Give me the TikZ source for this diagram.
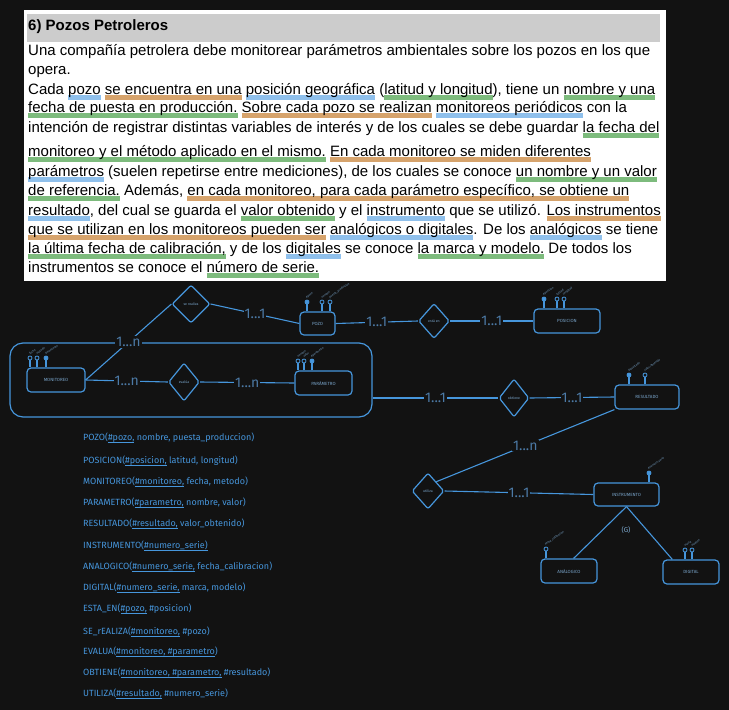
\documentclass[tikz,border=0pt]{standalone}
\usepackage{fontspec}
\setmainfont{Liberation Sans}
\newfontfamily\esbozo{Fira Sans}
\usetikzlibrary{arrows.meta,positioning,shapes.geometric}
\definecolor{fondo}{HTML}{121212}
\definecolor{azul}{HTML}{4696DC}
\definecolor{rotulo}{HTML}{7AA6CC}
\definecolor{card}{HTML}{4C7AA6}
\definecolor{barra}{HTML}{CCCCCC}
\definecolor{hlverde}{HTML}{7DBB7D}
\definecolor{hlazul}{HTML}{8FC0EC}
\definecolor{hlnaranja}{HTML}{D6A36C}
\newsavebox\marcabox
\newcommand{\marca}[2]{\sbox\marcabox{#2}\rlap{\color{#1}\rule[-5.5pt]{\wd\marcabox}{5pt}}\usebox\marcabox}
\newcommand{\clave}[1]{\sbox\marcabox{#1}\rlap{\color{azul}\rule[-2.8pt]{\wd\marcabox}{0.9pt}}\usebox\marcabox}
\newcommand{\atr}[4]{%
  \draw[con] ([xshift=#2pt]#1.north) -- ++(0,-7) coordinate (a);
  \node[punto,fill=#3] (p) at (a) {};
  \node[atrib] at (p.north) {#4};}

\begin{document}
\begin{tikzpicture}[x=1pt, y=-1pt, >=Stealth,
    linea/.style={anchor=base west, inner sep=0pt, font=\fontsize{15}{18}\selectfont},
    con/.style={draw=azul, line width=1.1pt},
    ent/.style={draw=azul, line width=1.2pt, rounded corners=4pt, inner sep=0pt, font=\esbozo\fontsize{4.5}{5}\selectfont, text=rotulo},
    rel/.style={diamond, draw=azul, line width=1.2pt, rounded corners=2pt, inner sep=0pt, font=\esbozo\fontsize{3.5}{4}\selectfont, text=rotulo},
    card/.style={fill=fondo, inner sep=1pt, font=\esbozo\fontsize{14}{14}\selectfont, text=card},
    punto/.style={circle, draw=azul, line width=0.8pt, inner sep=0pt, minimum size=4pt, anchor=south},
    atrib/.style={anchor=south west, rotate=35, inner sep=0.5pt, font=\esbozo\fontsize{2.8}{3}\selectfont, text=rotulo},
    esq/.style={anchor=base west, inner sep=0pt, font=\esbozo\fontsize{9}{10}\selectfont, text=azul}]
  \useasboundingbox (0,0) rectangle (729,710);
  \fill[fondo] (0,0) rectangle (729,710);
  \fill[white] (24,10) rectangle (666,281);
  \fill[barra] (26.5,14) rectangle (660,41.5);
  \node[linea, font=\bfseries\fontsize{15}{18}\selectfont] (titulo) at (28,30.5) {6) Pozos Petroleros};
  \node[linea] (l1) at (28,55.5) {Una compañía petrolera debe monitorear parámetros ambientales sobre los pozos en los que};
  \node[linea] (l2) at (28,74.5) {opera.};
  \node[linea] (l3) at (28,94.5) {Cada \marca{hlazul}{pozo} \marca{hlnaranja}{se encuentra en una} \marca{hlazul}{posición geográfica} (\marca{hlverde}{latitud y longitud}), tiene un \marca{hlverde}{nombre y una}};
  \node[linea] (l4) at (28,112.5) {\marca{hlverde}{fecha de puesta en producción.} \marca{hlnaranja}{Sobre cada pozo se realizan} \marca{hlazul}{monitoreos periódicos} con la};
  \node[linea] (l5) at (28,132.5) {intención de registrar distintas variables de interés y de los cuales se debe guardar \marca{hlverde}{la fecha del}};
  \node[linea] (l6) at (28,156.5) {\marca{hlverde}{monitoreo y el método aplicado en el mismo.} \marca{hlnaranja}{En cada monitoreo se miden diferentes}};
  \node[linea] (l7) at (28,176.5) {\marca{hlazul}{parámetros} (suelen repetirse entre mediciones), de los cuales se conoce \marca{hlverde}{un nombre y un valor}};
  \node[linea] (l8) at (28,195.5) {\marca{hlverde}{de referencia.} Además, \marca{hlnaranja}{en cada monitoreo, para cada parámetro específico, se obtiene un}};
  \node[linea] (l9) at (28,215.5) {\marca{hlazul}{resultado}, del cual se guarda el \marca{hlverde}{valor obtenido} y el \marca{hlazul}{instrumento} que se utilizó. \marca{hlnaranja}{Los instrumentos}};
  \node[linea] (l10) at (28,234.5) {\marca{hlnaranja}{que se utilizan en los monitoreos pueden ser} \marca{hlazul}{analógicos o digitales}. De los \marca{hlazul}{analógicos} se tiene};
  \node[linea] (l11) at (28,253.5) {\marca{hlverde}{la última fecha de calibración,} y de los \marca{hlazul}{digitales} se conoce \marca{hlverde}{la marca y modelo.} De todos los};
  \node[linea] (l12) at (28,272.5) {instrumentos se conoce el \marca{hlverde}{número de serie.}};

  \node[draw=azul, line width=1.2pt, rounded corners=13pt, minimum width=362pt, minimum height=74pt] (agreg) at (191,380) {};
  \node[ent, minimum width=35pt, minimum height=23pt] (pozo) at (317.5,323.5) {POZO};
  \node[ent, minimum width=66pt, minimum height=24pt] (posicion) at (567,321) {POSICION};
  \node[ent, minimum width=58pt, minimum height=24pt] (monitoreo) at (56,380) {MONITOREO};
  \node[ent, minimum width=57pt, minimum height=24pt] (parametro) at (323.5,383) {PARÁMETRO};
  \node[ent, minimum width=64pt, minimum height=24pt] (resultado) at (647,397) {RESULTADO};
  \node[ent, minimum width=65pt, minimum height=23pt] (instrumento) at (626.5,494.5) {INSTRUMENTO};
  \node[ent, minimum width=56pt, minimum height=24pt] (analogico) at (569,571) {ANÁLOGICO};
  \node[ent, minimum width=56pt, minimum height=24pt] (digital) at (691,572) {DIGITAL};
  \node[rel, minimum width=38pt, minimum height=38pt] (serealiza) at (191,304) {se realiza};
  \node[rel, minimum width=31pt, minimum height=35pt] (estaen) at (434,321) {está en};
  \node[rel, minimum width=31pt, minimum height=38pt] (evalua) at (184,382) {evalúa};
  \node[rel, minimum width=30pt, minimum height=38pt] (obtiene) at (514,398) {obtiene};
  \node[rel, minimum width=32pt, minimum height=36pt] (utiliza) at (428,491) {utiliza};

  \draw[con] (monitoreo.east) -- node[card] {1...n} (serealiza.west);
  \draw[con] (serealiza.east) -- node[card] {1...1} (pozo.west);
  \draw[con] (pozo.east) -- node[card] {1...1} (estaen.west);
  \draw[con] (estaen.east) -- node[card] {1...1} (posicion.west);
  \draw[con] (monitoreo.east) -- node[card] {1...n} (evalua.west);
  \draw[con] (evalua.east) -- node[card] {1...n} (parametro.west);
  \draw[con] (agreg.east |- obtiene.west) -- node[card] {1...1} (obtiene.west);
  \draw[con] (obtiene.east) -- node[card] {1...1} (resultado.west);
  \draw[con] (resultado.south west) -- node[card] {1...n} (utiliza.north east);
  \draw[con] (utiliza.east) -- node[card] {1...1} (instrumento.west);
  \draw[con] (instrumento.south) -- (analogico.70);
  \draw[con] (instrumento.south) -- (digital.146);
  \node[font=\esbozo\fontsize{7}{8}\selectfont, text=rotulo] (g) at (626,530) {(G)};

  \atr{pozo}{-10.5}{azul}{\#pozo}
  \atr{pozo}{4.5}{fondo}{nombre}
  \atr{pozo}{12.5}{fondo}{puesta\_produccion}
  \atr{posicion}{-23}{azul}{\#posicion}
  \atr{posicion}{-10}{fondo}{latitud}
  \atr{posicion}{-3}{fondo}{longitud}
  \atr{monitoreo}{-26}{fondo}{fecha}
  \atr{monitoreo}{-19}{fondo}{metodo}
  \atr{monitoreo}{-10}{azul}{\#monitoreo}
  \atr{parametro}{-25.5}{fondo}{nombre}
  \atr{parametro}{-19.5}{fondo}{valor}
  \atr{parametro}{-11.5}{azul}{\#parametro}
  \atr{resultado}{-18}{azul}{\#resultado}
  \atr{resultado}{-2}{fondo}{valor\_obtenido}
  \atr{instrumento}{22.5}{azul}{\#numero\_serie}
  \atr{analogico}{-23}{fondo}{fecha\_calibracion}
  \atr{digital}{-6}{fondo}{marca}
  \atr{digital}{1}{fondo}{modelo}

  \node[esq] (r1) at (83,440) {POZO(\clave{\#pozo,} nombre, puesta\_produccion)};
  \node[esq] (r2) at (83,463) {POSICION(\clave{\#posicion,} latitud, longitud)};
  \node[esq] (r3) at (83,484) {MONITOREO(\clave{\#monitoreo,} fecha, metodo)};
  \node[esq] (r4) at (83,505) {PARAMETRO(\clave{\#parametro,} nombre, valor)};
  \node[esq] (r5) at (83,526) {RESULTADO(\clave{\#resultado,} valor\_obtenido)};
  \node[esq] (r6) at (83,548) {INSTRUMENTO(\clave{\#numero\_serie)}};
  \node[esq] (r7) at (83,569) {ANALOGICO(\clave{\#numero\_serie,} fecha\_calibracion)};
  \node[esq] (r8) at (83,590) {DIGITAL(\clave{\#numero\_serie,} marca, modelo)};
  \node[esq] (r9) at (83,611) {ESTA\_EN(\clave{\#pozo,} \#posicion)};
  \node[esq] (r10) at (83,634) {SE\_rEALIZA(\clave{\#monitoreo,} \#pozo)};
  \node[esq] (r11) at (83,654) {EVALUA(\clave{\#monitoreo, \#parametro})};
  \node[esq] (r12) at (83,675) {OBTIENE(\clave{\#monitoreo, \#parametro,} \#resultado)};
  \node[esq] (r13) at (83,696) {UTILIZA(\clave{\#resultado,} \#numero\_serie)};
\end{tikzpicture}
\end{document}
